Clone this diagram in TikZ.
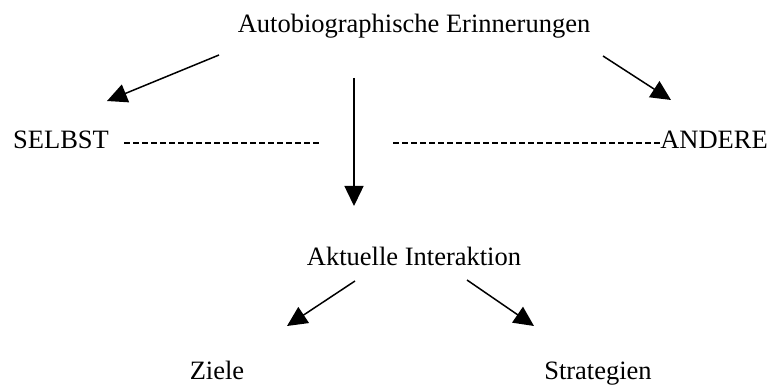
\documentclass[tikz,border=0pt]{standalone}
\usepackage{fontspec}
\setmainfont{Liberation Serif}
\usetikzlibrary{arrows.meta}
\begin{document}
\begin{tikzpicture}[x=1pt,y=-1pt,
  lbl/.style={inner sep=0pt,font=\fontsize{26.5}{30}\selectfont},
  arr/.style={line width=1.5pt,-{Triangle[length=20pt,width=19pt]}},
  dash line/.style={line width=1.1pt,dash pattern=on 6pt off 3pt}]
\useasboundingbox (0,0) rectangle (774,385);
\node[lbl,anchor=base] (title) at (414,33) {Autobiographische Erinnerungen};
\node[lbl,anchor=base west] (selbst) at (13,149) {SELBST};
\node[lbl,anchor=base east] (andere) at (768,149) {ANDERE};
\node[lbl,anchor=base] (akt) at (414,265) {Aktuelle Interaktion};
\node[lbl,anchor=base] (ziele) at (217,379) {Ziele};
\node[lbl,anchor=base] (strat) at (598,379) {Strategien};
% arrow endpoints
\coordinate (a1s) at (219,55);  \coordinate (a1e) at (107,101);
\coordinate (a2s) at (354,78);  \coordinate (a2e) at (354,206);
\coordinate (a3s) at (603,56);  \coordinate (a3e) at (671,100);
\coordinate (a4s) at (355,281); \coordinate (a4e) at (287,326);
\coordinate (a5s) at (467,280); \coordinate (a5e) at (534,326);
\draw[arr] (a1s) -- (a1e);
\draw[arr] (a2s) -- (a2e);
\draw[arr] (a3s) -- (a3e);
\draw[arr] (a4s) -- (a4e);
\draw[arr] (a5s) -- (a5e);
% dashed lines
\coordinate (d1s) at (124,143); \coordinate (d1e) at (320,143);
\coordinate (d2s) at (393,143);
\draw[dash line] (d1s) -- (d1e);
\draw[dash line] (d2s) -- (andere.west |- d2s);
\end{tikzpicture}
\end{document}
